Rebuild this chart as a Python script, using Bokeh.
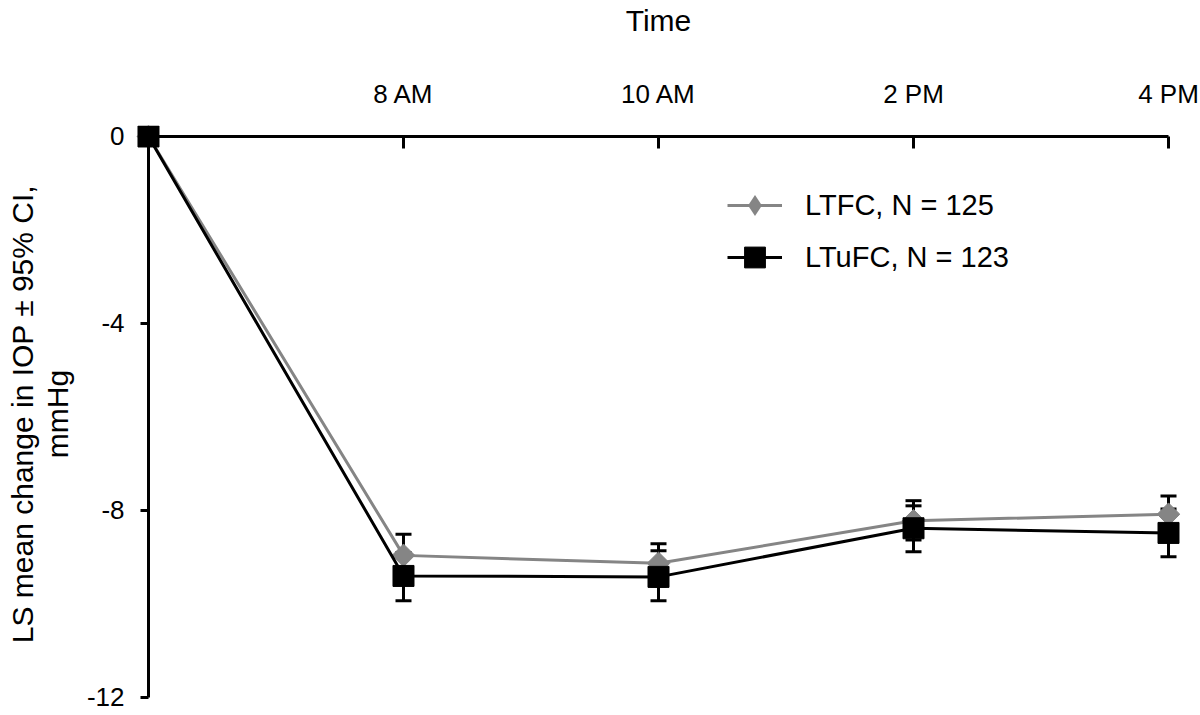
import numpy as np
from bokeh.plotting import figure
from bokeh.models import (ColumnDataSource, Whisker, TeeHead, FixedTicker, Legend,
                          LegendItem, LinearAxis)
from bokeh.embed import file_html
from bokeh.resources import INLINE

# ---- data ----
time_pos = [0, 1, 2, 3, 4]
time_labels = ["", "8 AM", "10 AM", "2 PM", "4 PM"]
y_ticks = [0, -4, -8, -12]
y_tick_labels = ["0", "-4", "-8", "-12"]

ltfc_mean = [0.0, -8.96, -9.13, -8.22, -8.08]
ltfc_lower = [0.0, -9.41, -9.62, -8.63, -8.47]
ltfc_upper = [0.0, -8.51, -8.71, -7.79, -7.69]

ltufc_mean = [0.0, -9.40, -9.42, -8.38, -8.48]
ltufc_lower = [0.0, -9.93, -9.93, -8.88, -8.99]
ltufc_upper = [0.0, -8.90, -8.86, -7.90, -7.97]

GRAY = "#858585"
FONT = "Liberation Sans"

p = figure(width=1200, height=715,
           x_range=(-0.0588, 4.0588), y_range=(-12.107, 0.235),
           output_backend="svg", toolbar_location=None,
           x_axis_location="above",
           min_border_left=133, min_border_right=17,
           min_border_top=124, min_border_bottom=13)
p.outline_line_color = None
p.grid.visible = False
p.title.text = ""

# ---- label-only axes at the frame edges ----
xa = p.xaxis[0]
xa.bounds = (0, 4)
xa.ticker = FixedTicker(ticks=time_pos[1:])
xa.major_label_overrides = {i: lab for i, lab in zip(time_pos, time_labels) if lab}
xa.axis_line_color = None
xa.major_tick_line_color = None
xa.minor_tick_line_color = None
xa.major_tick_in = 0
xa.major_tick_out = 0
xa.major_label_standoff = 17
xa.major_label_text_font = FONT
xa.major_label_text_font_size = "26px"
xa.major_label_text_color = "black"
xa.axis_label = "Time"
xa.axis_label_text_font = FONT
xa.axis_label_text_font_size = "30px"
xa.axis_label_text_font_style = "normal"
xa.axis_label_text_color = "black"
xa.axis_label_standoff = 39

ya = p.yaxis[0]
ya.bounds = (-12, 0)
ya.ticker = FixedTicker(ticks=y_ticks)
ya.major_label_overrides = {t: lab for t, lab in zip(y_ticks, y_tick_labels)}
ya.axis_line_color = None
ya.major_tick_line_color = None
ya.minor_tick_line_color = None
ya.major_tick_in = 0
ya.major_tick_out = 0
ya.major_label_standoff = 9
ya.major_label_text_font = FONT
ya.major_label_text_font_size = "26px"
ya.major_label_text_color = "black"
ya.axis_label = "LS mean change in IOP \u00b1 95% CI,\nmmHg"
ya.axis_label_text_font = FONT
ya.axis_label_text_font_size = "30px"
ya.axis_label_text_font_style = "normal"
ya.axis_label_text_color = "black"
ya.axis_label_text_line_height = 1.05
ya.axis_label_standoff = 10

# ---- axis lines and ticks through the origin ----
ax0 = LinearAxis(fixed_location=0, bounds=(0, 4), ticker=FixedTicker(ticks=time_pos[1:]),
                 major_tick_in=12, major_tick_out=0, minor_tick_line_color=None,
                 axis_line_width=3, major_tick_line_width=3,
                 major_label_overrides={i: "" for i in time_pos[1:]},
                 major_label_text_color=None)
p.add_layout(ax0, "above")
ay0 = LinearAxis(fixed_location=0, bounds=(-12, 0), ticker=FixedTicker(ticks=y_ticks),
                 major_tick_in=0, major_tick_out=8, minor_tick_line_color=None,
                 axis_line_width=3, major_tick_line_width=3,
                 major_label_overrides={t: "" for t in y_ticks},
                 major_label_text_color=None)
p.add_layout(ay0, "left")

# ---- error bars ----
src1 = ColumnDataSource(dict(x=time_pos[1:], lower=ltfc_lower[1:], upper=ltfc_upper[1:]))
src2 = ColumnDataSource(dict(x=time_pos[1:], lower=ltufc_lower[1:], upper=ltufc_upper[1:]))
for src in (src1, src2):
    w = Whisker(base="x", lower="lower", upper="upper", source=src,
                line_color="black", line_width=3, level="underlay",
                upper_head=TeeHead(size=16, line_width=3, line_color="black"),
                lower_head=TeeHead(size=16, line_width=3, line_color="black"))
    p.add_layout(w)

# ---- series ----
s_ltfc = ColumnDataSource(dict(x=time_pos, y=ltfc_mean))
s_ltufc = ColumnDataSource(dict(x=time_pos, y=ltufc_mean))

l1 = p.line("x", "y", source=s_ltfc, line_color=GRAY, line_width=3)
m1 = p.scatter("x", "y", source=s_ltfc, marker="square", angle=np.pi / 4, size=16,
               fill_color=GRAY, line_color=GRAY)
l2 = p.line("x", "y", source=s_ltufc, line_color="black", line_width=3)
m2 = p.scatter("x", "y", source=s_ltufc, marker="square", size=21,
               fill_color="black", line_color="black")

# legend swatch for the diamond (legend markers are drawn unrotated); size 0 in the plot
key = p.scatter("x", "y", source=s_ltfc, marker="diamond", size=0,
                fill_color=GRAY, line_color=None)

legend = Legend(items=[LegendItem(label="LTFC, N = 125", renderers=[l1, key]),
                       LegendItem(label="LTuFC, N = 123", renderers=[l2, m2])],
                location=(594, 419), glyph_width=55, glyph_height=52, spacing=0,
                label_standoff=23, padding=0, margin=0,
                border_line_color=None, background_fill_alpha=0,
                label_text_font=FONT, label_text_font_size="29px",
                label_text_color="black")
p.add_layout(legend)

open("out.html", "w").write(file_html(p, INLINE))
